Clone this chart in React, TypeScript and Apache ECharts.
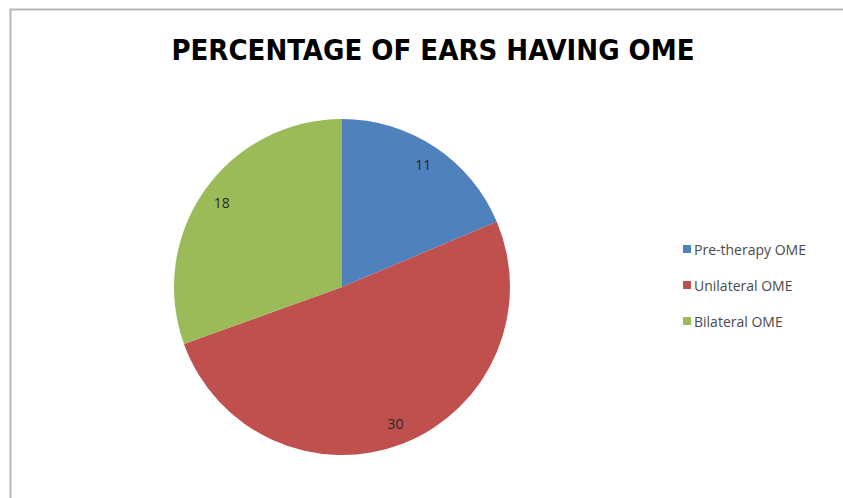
import React, { useEffect, useRef } from "react";
import * as echarts from "echarts";

const titleText = "PERCENTAGE OF EARS HAVING OME";
const categories = ["Pre-therapy OME", "Unilateral OME", "Bilateral OME"];
const values = [11, 30, 18];
const colors = ["#4F81BD", "#C0504D", "#9BBB59"];

export default function App() {
  const ref = useRef<HTMLDivElement>(null);
  useEffect(() => {
    if (!ref.current) return;
    const chart = echarts.init(ref.current, undefined, { renderer: "svg" });
    const data = categories.map((name, i) => ({ name, value: values[i], itemStyle: { color: colors[i] } }));
    chart.setOption({
      animation: false,
      backgroundColor: "#ffffff",
      title: {
        text: titleText,
        left: 428,
        textAlign: "center",
        top: 30,
        textStyle: {
          fontFamily: "'DejaVu Sans Condensed', 'Liberation Sans Narrow', sans-serif",
          fontWeight: "bold",
          fontSize: 29,
          color: "#000000",
        },
      },
      graphic: [
        {
          type: "rect",
          shape: { x: 10.5, y: 9.5, width: 900, height: 600 },
          style: { fill: "none", stroke: "#b8b8b8", lineWidth: 2 },
          silent: true,
          z: -1,
        },
      ],
      legend: {
        orient: "vertical",
        left: 678,
        top: 237,
        icon: "rect",
        itemWidth: 8,
        itemHeight: 8,
        itemGap: 22,
        data: categories,
        textStyle: {
          fontFamily: "'Open Sans', sans-serif",
          fontSize: 14,
          color: "#4a4a4a",
          padding: [0, 0, 0, -2],
        },
      },
      series: [
        {
          type: "pie",
          center: [342, 287],
          radius: [0, 168],
          startAngle: 90,
          clockwise: true,
          label: { show: false },
          labelLine: { show: false },
          emphasis: { disabled: true },
          data,
        },
        {
          type: "pie",
          center: [342, 287],
          radius: [0, 288],
          startAngle: 90,
          clockwise: true,
          silent: true,
          legendHoverLink: false,
          itemStyle: { color: "rgba(0,0,0,0)", borderWidth: 0 },
          label: {
            show: true,
            position: "inside",
            formatter: "{c}",
            fontFamily: "'Open Sans', sans-serif",
            fontSize: 14,
            color: "#2a2a2a",
            textBorderWidth: 0,
          },
          labelLine: { show: false },
          emphasis: { disabled: true },
          z: 3,
          data: categories.map((name, i) => ({ name: name + " ", value: values[i] })),
        },
      ],
    });
    return () => chart.dispose();
  }, []);
  return <div ref={ref} style={{ position: "fixed", left: 0, top: 0, width: 843, height: 498 }} />;
}
